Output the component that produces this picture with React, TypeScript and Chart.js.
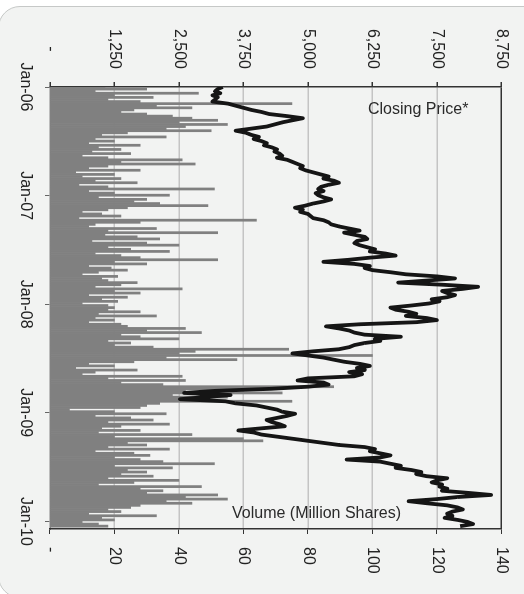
import React, { useEffect, useRef } from 'react';
import { Chart, registerables } from 'chart.js';

Chart.register(...registerables);

// Year tick labels on the time axis (value = years since Jan-06)
const dateLabels = ['Jan-06', 'Jan-07', 'Jan-08', 'Jan-09', 'Jan-10'];

// Weekly closing price (index = week since Jan-06)
const closingPrice = [
  3350, 3250, 3200, 3300, 3150, 3250, 3200, 3150, 3450, 3600,
  3750, 3900, 4100, 4250, 4600, 4900, 4700, 4500, 4350, 4200,
  3900, 3600, 3800, 3900, 4050, 3950, 4100, 4200, 4150, 4300,
  4400, 4350, 4450, 4500, 4400, 4600, 4700, 4800, 4900, 4850,
  4950, 5100, 5250, 5400, 5300, 5500, 5600, 5400, 5250, 5200,
  5300, 5150, 5200, 5300, 5450, 5300, 5100, 4950, 4750, 4900,
  4850, 5000, 5050, 5100, 5300, 5400, 5450, 5600, 5800, 6000,
  5700, 5900, 6100, 6150, 5950, 5900, 6000, 6150, 6300, 6200,
  6500, 6700, 6200, 5800, 5300, 5900, 6200, 6100, 6250, 6600,
  6900, 7500, 7850, 7300, 6750, 7600, 8300, 8000, 7600, 7700,
  7850, 7700, 7400, 7550, 7350, 7000, 6600, 6700, 6950, 7100,
  6900, 7300, 7500, 7100, 6000, 5350, 5600, 5800, 5900, 6100,
  6800, 6300, 6400, 6100, 5900, 5800, 5600, 5100, 4700, 5000,
  5300, 5500, 5700, 6000, 6200, 5950, 6100, 5800, 6050, 5900,
  5000, 4800, 5300, 5400, 5000, 4300, 3200, 2600, 3500, 3000,
  2520, 3400, 3600, 4000, 4200, 4400, 4500, 4750, 4600, 4400,
  4200, 4300, 4450, 4550, 4100, 3650, 3950, 4100, 4400, 4700,
  5000, 5300, 5600, 6100, 6300, 6200, 6400, 6600, 6400, 5750,
  6400, 6600, 6800, 6700, 7000, 7200, 7100, 7300, 7700, 7500,
  7400, 7600, 7550, 7700, 7600, 8100, 8550, 7900, 7500, 6950,
  7300, 7700, 7900, 8000, 7800, 7700, 7800, 7650, 7900, 8100,
  8200, 7950,
];

// Weekly volume, million shares
const volumeMillions = [
  17, 30, 14, 46, 20, 32, 18,
  28, 75, 33, 44, 26,
  22,
  30, 38, 44, 52, 40, 55, 42, 36, 50,
  24, 16, 36, 14, 20, 12, 28, 15, 22, 13, 25, 10, 18,
  41, 22, 45, 18,
  12, 28, 8, 20,
  10, 22, 14, 27, 9, 18, 51, 12,
  20, 37, 15, 30, 26, 34, 49, 24, 18,
  10, 16, 22, 9, 64, 28, 14, 12, 33, 18, 52,
  17, 27, 34, 13, 30,
  40, 18, 25, 37, 14, 22, 28, 52, 20, 30,
  12, 19, 24, 15, 10, 21, 16,
  18, 27, 22, 14, 41, 20, 28, 12, 24, 16, 21, 10, 18, 20,
  18, 28, 15, 33, 14, 20, 12, 22,
  24, 42, 30, 47, 22, 28, 40, 18, 25, 20,
  32, 74, 45, 40, 100, 36, 58, 26,
  12, 20, 8, 27, 14, 10, 41, 18, 42, 22,
  35, 88, 60, 42, 72, 38, 55, 40, 75, 34, 30, 28,
  6, 20, 36, 14, 25, 32, 18, 37, 22, 16, 28, 15, 44, 20, 60, 66, 24, 30, 18, 37, 14, 26, 31, 20,
  28, 35, 51, 20, 38, 24, 30,
  22, 32, 18, 40, 26, 15, 47, 28, 35,
  30, 52, 42, 55, 36, 44, 28, 25,
  18, 22, 12, 33, 16, 20, 10, 15, 18,
];

const priceTicks = [0, 1250, 2500, 3750, 5000, 6250, 7500, 8750];
const volumeTicks = [0, 20, 40, 60, 80, 100, 120, 140];

const WEEKS_PER_YEAR = 365.25 / 7;
const FONT = { family: "'Liberation Sans', Arial, sans-serif", size: 16 };
const TEXT = '#222222';

export default function App() {
  const ref = useRef<HTMLCanvasElement | null>(null);

  useEffect(() => {
    if (!ref.current) return;
    const toPts = (arr: number[]) => arr.map((v, i) => ({ x: i / WEEKS_PER_YEAR, y: v }));
    const chart = new Chart(ref.current, {
      type: 'bar',
      data: {
        datasets: [
          {
            type: 'line',
            label: 'Closing Price*',
            data: toPts(closingPrice),
            yAxisID: 'price',
            borderColor: '#151515',
            borderWidth: 3.8,
            borderJoinStyle: 'round',
            pointRadius: 0,
            tension: 0,
            order: 0,
          } as any,
          {
            type: 'bar',
            label: 'Volume (Million Shares)',
            data: toPts(volumeMillions),
            yAxisID: 'vol',
            backgroundColor: '#808080',
            borderWidth: 0,
            barPercentage: 1,
            categoryPercentage: 1,
            order: 1,
          } as any,
        ],
      },
      options: {
        animation: false,
        responsive: false,
        layout: { padding: { top: 15.5, left: 0, right: 0, bottom: 0 } },
        plugins: { legend: { display: false }, tooltip: { enabled: false } },
        scales: {
          x: {
            type: 'linear',
            min: 0,
            max: 4.07,
            offset: false,
            afterBuildTicks: (s: any) => {
              s.ticks = dateLabels.map((_, i) => ({ value: i }));
            },
            ticks: {
              callback: (v: any) => dateLabels[Math.round(Number(v))] ?? '',
              font: FONT,
              color: TEXT,
              padding: 10,
              maxRotation: 0,
              minRotation: 0,
              autoSkip: false,
            },
            grid: { drawOnChartArea: false, tickLength: 5, tickColor: '#666', offset: false },
            border: { color: '#858585', width: 1.5 },
            afterFit: (s: any) => {
              s.height = 50;
            },
          },
          price: {
            type: 'linear',
            position: 'left',
            min: 0,
            max: 8750,
            afterBuildTicks: (s: any) => {
              s.ticks = priceTicks.map((v) => ({ value: v }));
            },
            ticks: {
              callback: (v: any) => (Number(v) === 0 ? '-' : Number(v).toLocaleString('en-US')),
              font: FONT,
              color: TEXT,
              crossAlign: 'center',
              padding: 13,
            },
            grid: {
              color: (c: any) =>
                c.tick && c.tick.value === 8750 ? '#333' : c.tick && c.tick.value === 0 ? 'rgba(0,0,0,0)' : '#c4c4c4',
              lineWidth: 1.5,
              tickLength: 5,
              tickColor: '#333',
            },
            border: { color: '#333', width: 1.5 },
            afterFit: (s: any) => {
              s.width = 87;
            },
          },
          vol: {
            type: 'linear',
            position: 'right',
            min: 0,
            max: 140,
            afterBuildTicks: (s: any) => {
              s.ticks = volumeTicks.map((v) => ({ value: v }));
            },
            ticks: {
              callback: (v: any) => (Number(v) === 0 ? '-' : String(v)),
              font: FONT,
              color: TEXT,
              padding: 13,
            },
            grid: { drawOnChartArea: false, tickLength: 5, tickColor: '#333' },
            border: { color: '#333', width: 1.5 },
            afterFit: (s: any) => {
              s.width = 65;
            },
          },
        },
      } as any,
    });
    return () => chart.destroy();
  }, []);

  const labelStyle: React.CSSProperties = {
    position: 'absolute',
    fontFamily: "'Liberation Sans', Arial, sans-serif",
    fontSize: 16,
    lineHeight: '16px',
    color: '#2a2a2a',
    whiteSpace: 'nowrap',
  };

  return (
    <div
      style={{
        position: 'absolute',
        left: 0,
        top: 0,
        width: 524,
        height: 594,
        overflow: 'hidden',
        background: '#ffffff',
      }}
    >
      <div
        style={{
          position: 'absolute',
          left: -2,
          top: 6,
          width: 600,
          height: 590,
          border: '1.5px solid #c6c8c7',
          borderRadius: 22,
          background: '#f2f3f2',
        }}
      />
      <div
        style={{
          position: 'absolute',
          left: 0,
          top: 0,
          width: 594,
          height: 524,
          transformOrigin: '0 0',
          transform: 'translateX(524px) rotate(90deg)',
        }}
      >
        <canvas ref={ref} width={594} height={524} style={{ display: 'block', width: 594, height: 524 }} />
      </div>
      <div style={{ ...labelStyle, left: 368, top: 101 }}>Closing Price*</div>
      <div style={{ ...labelStyle, left: 232, top: 505 }}>Volume (Million Shares)</div>
    </div>
  );
}
